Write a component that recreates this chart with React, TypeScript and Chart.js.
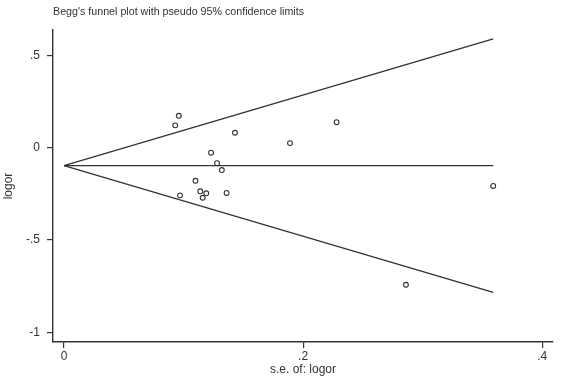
import React, { useEffect, useRef } from "react";
import { Chart, registerables } from "chart.js";

Chart.register(...registerables);

// Study estimates: standard error of log OR and log OR
const studySE = [0.096, 0.093, 0.143, 0.123, 0.128, 0.132, 0.110, 0.114, 0.119, 0.116, 0.136, 0.097, 0.228, 0.189, 0.359, 0.286];
const studyLogOR = [0.173, 0.121, 0.081, -0.027, -0.084, -0.121, -0.179, -0.236, -0.247, -0.271, -0.245, -0.258, 0.138, 0.025, -0.207, -0.742];

// Pooled estimate and pseudo 95% confidence limits at the largest s.e.
const pooledLogOR = -0.097;
const maxSE = 0.359;
const upperLimitAtMax = 0.589;
const lowerLimitAtMax = -0.783;

// Axis ticks and their labels
const xTicks = [0, 0.2, 0.4];
const xTickLabels = ["0", ".2", ".4"];
const yTicks = [-1, -0.5, 0, 0.5];
const yTickLabels = ["-1", "-.5", "0", ".5"];

const INK = "#333333";
const FONT = "'Liberation Sans', Arial, sans-serif";

export default function App() {
  const canvasRef = useRef<HTMLCanvasElement | null>(null);

  useEffect(() => {
    const canvas = canvasRef.current;
    if (!canvas) return;

    const points = studySE.map((se, i) => ({ x: se, y: studyLogOR[i] }));
    const lineStyle = {
      type: "line" as const,
      showLine: true,
      borderColor: INK,
      borderWidth: 1.4,
      pointRadius: 0,
      fill: false,
    };

    const chart = new Chart(canvas, {
      type: "scatter",
      data: {
        datasets: [
          { ...lineStyle, label: "pooled", data: [{ x: 0, y: pooledLogOR }, { x: maxSE, y: pooledLogOR }] },
          { ...lineStyle, label: "upper", data: [{ x: 0, y: pooledLogOR }, { x: maxSE, y: upperLimitAtMax }] },
          { ...lineStyle, label: "lower", data: [{ x: 0, y: pooledLogOR }, { x: maxSE, y: lowerLimitAtMax }] },
          {
            label: "studies",
            data: points,
            pointStyle: "circle",
            pointRadius: 2.4,
            borderWidth: 1.1,
            borderColor: INK,
            backgroundColor: "#ffffff",
          },
        ],
      },
      options: {
        animation: false,
        responsive: false,
        layout: { padding: { left: 0, right: 21, top: 0, bottom: 0 } },
        plugins: {
          legend: { display: false },
          tooltip: { enabled: false },
          title: {
            display: true,
            text: "Begg's funnel plot with pseudo 95% confidence limits",
            align: "start",
            fullSize: false,
            color: INK,
            font: { family: FONT, size: 10.7, weight: "normal", lineHeight: 1.2 },
            padding: { top: 5.6, bottom: 11.6 },
          },
        },
        scales: {
          x: {
            type: "linear",
            min: -0.0092,
            max: 0.409,
            afterBuildTicks: (scale: any) => {
              scale.ticks = xTicks.map((v) => ({ value: v }));
            },
            afterFit: (scale: any) => {
              scale.height = 38;
            },
            border: { display: true, color: INK, width: 1.4 },
            grid: { display: true, drawOnChartArea: false, drawTicks: true, tickLength: 6, color: INK, lineWidth: 1.2 },
            ticks: {
              color: INK,
              padding: 1,
              maxRotation: 0,
              font: { family: FONT, size: 12 },
              callback: (value: any) => xTickLabels[xTicks.indexOf(Number(value))] ?? "",
            },
            title: {
              display: true,
              text: "s.e. of: logor",
              color: INK,
              font: { family: FONT, size: 12 },
              padding: { top: 0, bottom: 3 },
            },
          },
          y: {
            type: "linear",
            min: -1.052,
            max: 0.637,
            afterBuildTicks: (scale: any) => {
              scale.ticks = yTicks.map((v) => ({ value: v }));
            },
            afterFit: (scale: any) => {
              scale.width = 53;
            },
            border: { display: true, color: INK, width: 1.4 },
            grid: { display: true, drawOnChartArea: false, drawTicks: true, tickLength: 6, color: INK, lineWidth: 1.2 },
            ticks: {
              color: INK,
              padding: 7,
              font: { family: FONT, size: 12 },
              callback: (value: any) => yTickLabels[yTicks.indexOf(Number(value))] ?? "",
            },
            title: {
              display: true,
              text: "logor",
              color: INK,
              font: { family: FONT, size: 12 },
              padding: { top: 1, bottom: 0 },
            },
          },
        },
      },
    });

    return () => chart.destroy();
  }, []);

  return (
    <div style={{ position: "absolute", left: 0, top: 0, width: 574, height: 380, background: "#ffffff" }}>
      <canvas ref={canvasRef} width={574} height={380} style={{ display: "block", width: 574, height: 380 }} />
    </div>
  );
}
